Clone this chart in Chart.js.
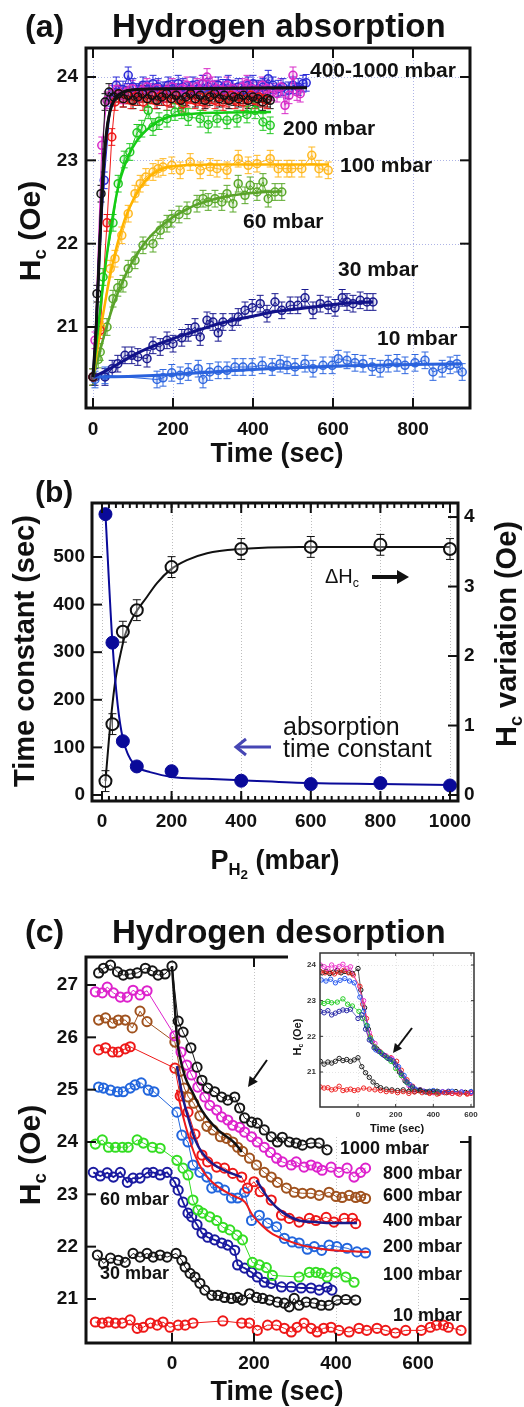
<!DOCTYPE html>
<html><head><meta charset="utf-8">
<script src="https://cdn.jsdelivr.net/npm/chart.js@4.4.1/dist/chart.umd.min.js"></script>
<style>
html,body{margin:0;padding:0;background:#fff;}
body{width:524px;height:1407px;position:relative;overflow:hidden;font-family:Arial,"Liberation Sans",Helvetica,sans-serif;color:#111;}
canvas{position:absolute;}
.t{position:absolute;white-space:nowrap;line-height:1;color:#111;}
.t sub{font-size:62%;vertical-align:baseline;position:relative;top:0.32em;}
.t sub sub{font-size:80%;}
svg{position:absolute;left:0;top:0;}
</style></head><body>
<canvas id="cA" width="524" height="470" style="left:0;top:0"></canvas>
<canvas id="cB" width="524" height="440" style="left:0;top:470px"></canvas>
<canvas id="cC" width="524" height="497" style="left:0;top:910px"></canvas>
<canvas id="cI" width="196" height="192" style="left:288px;top:944px;background:#fff"></canvas>
<svg id="ov" width="524" height="1407"></svg>
<script>
// ================= DATA : panel (a) absorption =================
const A_XTICKS=[0,200,400,600,800];
const A_YTICKS=[21,22,23,24];
const a_hiBlue=[[0,20.4],[28,22.76],[45,23.75],[58,23.9],[75,23.85],[88,24.02],[100,23.88],[113,23.82],[125,23.9],[138,23.85],[150,23.92],[163,23.88],[175,23.84],[188,23.9],[200,23.86],[213,23.92],[225,23.88],[238,23.84],[250,23.9],[263,23.86],[275,23.92],[288,23.88],[300,23.85],[313,23.9],[325,23.87],[338,23.92],[350,23.86],[363,23.88],[375,23.84],[388,23.9],[400,23.92],[413,23.86],[425,23.88],[438,23.98],[450,23.9],[463,23.86],[475,23.88],[488,23.84],[500,23.9],[513,23.88],[525,23.92],[533,23.93]];
const a_hiMag=[[0,20.4],[5,20.84],[22,23.18],[35,23.72],[48,23.8],[60,23.85],[73,23.78],[85,23.82],[98,23.86],[110,23.8],[123,23.84],[135,23.88],[148,23.82],[160,23.86],[173,23.8],[185,23.84],[198,23.88],[210,23.82],[223,23.86],[235,23.9],[248,23.84],[260,23.88],[273,23.92],[285,24.0],[298,23.9],[310,23.86],[323,23.84],[335,23.9],[348,23.86],[360,23.82],[373,23.88],[385,23.92],[398,23.86],[410,23.84],[423,23.9],[435,23.86],[448,23.82],[460,23.8],[470,23.88],[480,23.66],[490,23.78],[500,24.02],[510,23.82],[518,23.8]];
const a_hiRed=[[0,20.4],[18,20.96],[35,22.25],[47,23.28],[55,23.7],[65,23.8],[75,23.74],[85,23.78],[95,23.72],[105,23.76],[115,23.8],[125,23.7],[135,23.74],[145,23.78],[155,23.72],[165,23.76],[175,23.8],[185,23.7],[195,23.74],[205,23.78],[215,23.72],[225,23.68],[235,23.74],[245,23.78],[255,23.72],[265,23.76],[275,23.7],[285,23.74],[295,23.78],[305,23.72],[315,23.76],[325,23.7],[335,23.74],[345,23.78],[355,23.72],[365,23.76],[375,23.7],[385,23.74],[395,23.78],[405,23.72],[415,23.76],[425,23.74],[435,23.72]];
const a_hiBlack=[[0,20.4],[10,21.4],[20,22.6],[30,23.7],[40,23.82],[52,23.76],[64,23.8],[76,23.74],[88,23.78],[100,23.72],[112,23.76],[124,23.8],[136,23.74],[148,23.78],[160,23.72],[172,23.76],[184,23.8],[196,23.74],[208,23.78],[220,23.72],[232,23.76],[244,23.8],[256,23.74],[268,23.78],[280,23.72],[292,23.76],[304,23.8],[316,23.74],[328,23.78],[340,23.72],[352,23.76],[364,23.74],[376,23.78],[388,23.72],[400,23.76],[412,23.74],[424,23.7],[436,23.74],[443,23.72]];
const a_hiFit=[[0,20.4],[8,21.0],[17,22.0],[25,22.8],[33,23.3],[42,23.58],[55,23.74],[75,23.82],[110,23.85],[200,23.86],[535,23.87]];
const a_200=[[0,20.4],[25,21.6],[50,22.25],[63,22.72],[78,23.01],[92,23.1],[110,23.33],[122,23.38],[138,23.6],[150,23.4],[165,23.47],[185,23.5],[205,23.58],[222,23.6],[238,23.52],[268,23.5],[288,23.43],[310,23.5],[335,23.48],[360,23.5],[385,23.55],[405,23.6],[425,23.46],[443,23.42]];
const a_200fit=[[0,20.4],[12,20.95],[25,21.5],[38,21.98],[50,22.35],[62,22.66],[80,22.95],[105,23.2],[148,23.42],[188,23.52],[230,23.55],[300,23.57],[445,23.58]];
const a_100=[[0,20.4],[20,21.0],[43,21.7],[55,21.82],[72,22.1],[88,22.36],[105,22.6],[118,22.72],[132,22.8],[150,22.86],[163,22.9],[175,22.92],[197,22.94],[218,22.88],[243,22.98],[268,22.88],[293,22.92],[310,22.9],[335,22.88],[363,23.02],[388,22.94],[410,22.96],[443,23.02],[463,22.9],[485,22.9],[497,22.9],[522,22.9],[547,23.06],[565,22.9],[588,22.88]];
const a_100fit=[[0,20.4],[20,21.0],[40,21.55],[60,21.98],[80,22.3],[100,22.52],[130,22.75],[160,22.87],[200,22.93],[300,22.95],[590,22.95]];
const a_60=[[0,20.4],[13,20.61],[18,20.7],[35,21.0],[50,21.34],[62,21.47],[75,21.52],[88,21.7],[105,21.8],[125,21.98],[150,22.0],[168,22.16],[185,22.24],[197,22.3],[215,22.35],[235,22.4],[260,22.48],[275,22.54],[288,22.5],[305,22.54],[322,22.5],[335,22.6],[350,22.48],[363,22.72],[380,22.58],[393,22.7],[410,22.62],[425,22.74],[438,22.54],[455,22.62],[472,22.62]];
const a_60fit=[[0,20.4],[25,20.85],[50,21.25],[75,21.56],[100,21.8],[125,21.98],[150,22.12],[200,22.32],[250,22.45],[300,22.53],[350,22.58],[400,22.61],[472,22.63]];
const a_30=[[5,20.4],[30,20.4],[48,20.5],[62,20.56],[80,20.66],[97,20.66],[112,20.64],[135,20.62],[150,20.78],[168,20.76],[185,20.84],[200,20.8],[222,20.87],[238,20.93],[255,21.0],[268,20.88],[285,21.08],[300,21.06],[313,20.93],[325,21.06],[348,21.06],[363,21.12],[380,21.2],[398,21.23],[418,21.28],[435,21.16],[455,21.3],[472,21.2],[493,21.26],[512,21.26],[530,21.35],[550,21.2],[568,21.28],[588,21.26],[605,21.23],[623,21.35],[635,21.3],[650,21.28],[668,21.32],[685,21.3],[700,21.3]];
const a_30fit=[[0,20.4],[50,20.52],[100,20.66],[150,20.77],[200,20.86],[250,20.94],[300,21.02],[350,21.08],[400,21.13],[450,21.18],[500,21.21],[550,21.24],[600,21.27],[650,21.29],[700,21.3]];
const a_10=[[5,20.37],[30,20.42],[160,20.37],[175,20.39],[197,20.45],[218,20.42],[238,20.46],[263,20.5],[275,20.37],[292,20.46],[313,20.48],[335,20.48],[355,20.52],[375,20.52],[398,20.52],[423,20.54],[448,20.52],[468,20.56],[485,20.54],[505,20.52],[530,20.56],[550,20.5],[575,20.54],[598,20.54],[613,20.62],[635,20.6],[655,20.57],[675,20.56],[698,20.52],[718,20.5],[738,20.56],[760,20.57],[780,20.54],[805,20.57],[830,20.6],[850,20.46],[873,20.5],[893,20.54],[910,20.56],[923,20.46]];
const a_10fit=[[0,20.4],[100,20.41],[200,20.43],[300,20.46],[400,20.49],[500,20.51],[600,20.53],[700,20.54],[800,20.55],[923,20.56]];

// ================= DATA : panel (b) =================
const B_XTICKS=[0,200,400,600,800,1000];
const B_YTICKS=[0,100,200,300,400,500];
const B_Y2TICKS=[0,1,2,3,4];
const b_P=[10,30,60,100,200,400,600,800,1000];
const b_tau=[590,320,113,60,50,30,23,25,20];
const b_dH=[0.2,1.02,2.35,2.66,3.28,3.54,3.57,3.6,3.54];
const b_tauFit=[[10,590],[30,320],[45,190],[60,118],[75,85],[90,67],[110,55],[138,48],[200,38],[300,34],[400,31],[600,25],[800,23],[1000,21]];
const b_dHFit=[[10,0.2],[20,0.8],[31,1.35],[40,1.7],[52,2.0],[66,2.3],[89,2.56],[129,2.85],[158,3.05],[196,3.24],[244,3.38],[302,3.48],[397,3.54],[569,3.57],[1000,3.57]];

// ================= DATA : panel (c) desorption =================
const C_XTICKS=[0,200,400,600];
const C_YTICKS=[21,22,23,24,25,26,27];
const c_1000=[[-179,27.23],[-167,27.32],[-150,27.38],[-133,27.25],[-119,27.19],[-102,27.21],[-85,27.23],[-65,27.32],[-48,27.27],[-34,27.19],[-17,27.21],[0,27.36],[15,26.31],[27,26.1],[46,25.8],[61,25.43],[73,25.18],[87,25.03],[104,24.96],[121,24.86],[136,24.8],[153,24.86],[165,24.65],[177,24.46],[194,24.38],[208,24.36],[225,24.23],[242,24.1],[257,24.0],[269,24.09],[286,24.0],[303,23.98],[318,23.94],[339,23.98],[359,23.98],[378,23.85]];
const c_1000fit=[[0,27.36],[5,26.8],[12,26.0],[20,25.6],[32,25.24],[50,24.95],[73,24.6],[112,24.23],[153,23.98],[170,23.81]];
const c_800=[[-187,26.87],[-170,26.85],[-158,26.96],[-143,26.85],[-126,26.77],[-109,26.77],[-95,26.9],[-78,26.81],[-61,26.89],[7,26.03],[22,25.72],[36,25.47],[48,25.28],[63,25.05],[80,24.86],[92,24.7],[109,24.61],[121,24.48],[136,24.42],[148,24.32],[165,24.28],[177,24.19],[194,24.1],[208,24.0],[225,23.9],[240,23.8],[255,23.69],[269,23.62],[291,23.56],[303,23.62],[322,23.52],[339,23.56],[354,23.52],[366,23.46],[388,23.52],[407,23.42],[427,23.5],[444,23.33],[460,23.42],[472,23.5]];
const c_600=[[-179,26.33],[-162,26.37],[-145,26.27],[-131,26.33],[-114,26.33],[-97,26.18],[-78,26.5],[-61,26.3],[7,25.91],[20,25.35],[30,25.03],[40,24.86],[53,24.74],[68,24.5],[85,24.3],[100,24.23],[118,24.1],[133,24.07],[148,24.0],[160,23.9],[172,23.82],[189,23.69],[206,23.56],[225,23.42],[242,23.33],[257,23.23],[279,23.12],[298,23.04],[318,23.02],[339,23.02],[359,22.98],[383,23.04],[400,22.96],[415,22.94],[432,22.98],[448,22.94],[460,22.96],[472,22.92]];
const c_400=[[-179,25.76],[-162,25.8],[-145,25.72],[-131,25.72],[-114,25.78],[-102,25.82],[7,25.41],[20,24.88],[39,24.57],[56,24.15],[73,23.75],[87,23.62],[109,23.52],[128,23.5],[148,23.4],[170,23.33],[184,23.12],[200,23.24],[215,23.05],[242,22.89],[267,22.6],[286,22.54],[310,22.47],[335,22.54],[351,22.5],[376,22.56],[395,22.47],[420,22.54],[440,22.54],[448,22.44]];
const c_400fitA=[[12,25.45],[25,24.9],[40,24.45],[56,24.05],[73,23.8],[100,23.58],[130,23.45],[170,23.33]];
const c_400fitB=[[206,23.27],[238,22.89],[269,22.66],[310,22.5],[350,22.47],[390,22.45],[451,22.45]];
const c_200=[[-179,25.05],[-167,25.03],[-150,24.99],[-133,24.96],[-119,24.96],[-102,25.03],[-90,25.09],[-75,25.13],[-58,24.99],[-44,24.96],[12,24.57],[24,24.13],[39,24.0],[51,23.56],[68,23.42],[85,23.33],[97,23.12],[112,23.14],[128,23.08],[145,22.93],[160,22.93],[177,23.04],[194,22.5],[213,22.6],[233,22.45],[255,22.38],[274,22.16],[293,22.09],[310,22.07],[330,21.95],[347,22.0],[365,21.93],[383,22.03],[402,22.0],[427,21.97],[451,21.9],[472,21.88]];
const c_200fit=[[12,25.0],[25,24.55],[40,24.12],[56,23.75],[75,23.45],[97,23.24],[120,23.1],[150,22.97],[178,22.85],[195,22.62],[220,22.4],[242,22.26],[270,22.15],[291,22.09],[320,22.02],[354,21.97],[390,21.93],[480,21.9]];
const c_100=[[-187,23.96],[-170,24.04],[-155,23.9],[-138,23.9],[-121,23.9],[-107,23.9],[-85,24.04],[-70,23.98],[-48,23.9],[-29,23.88],[12,23.65],[27,23.5],[39,23.37],[51,22.89],[63,22.7],[75,22.64],[92,22.57],[109,22.5],[124,22.37],[141,22.32],[158,22.22],[172,22.13],[196,21.7],[213,21.65],[230,21.6],[245,21.45],[310,21.42],[335,21.51],[351,21.51],[364,21.49],[378,21.42],[400,21.51],[424,21.42],[444,21.32]];
const c_60=[[-192,23.42],[-175,23.35],[-158,23.41],[-143,23.33],[-126,23.42],[-109,23.23],[-95,23.31],[-78,23.31],[-61,23.41],[-46,23.42],[-29,23.37],[-12,23.42],[7,23.23],[15,23.08],[27,22.85],[39,22.64],[48,22.57],[61,22.42],[73,22.26],[87,22.18],[104,22.13],[121,22.07],[136,22.03],[153,21.93],[160,21.65],[177,21.59],[194,21.51],[208,21.42],[225,21.32],[242,21.3],[267,21.23],[291,21.23],[315,21.21],[339,21.21],[359,21.17],[378,21.23],[390,21.17]];
const c_30=[[-182,21.84],[-167,21.68],[-150,21.78],[-131,21.74],[-114,21.7],[-95,21.87],[-78,21.8],[-61,21.87],[-46,21.8],[-29,21.84],[-12,21.8],[10,21.87],[24,21.74],[32,21.61],[44,21.49],[56,21.42],[68,21.3],[80,21.17],[97,21.07],[112,21.07],[128,21.03],[145,21.01],[160,21.03],[172,20.98],[189,21.1],[206,21.03],[221,21.01],[238,20.98],[257,20.94],[274,20.92],[286,20.85],[298,21.01],[310,20.88],[327,20.94],[347,20.92],[364,20.88],[383,20.88],[402,20.98],[424,20.99],[448,20.98]];
const c_10=[[-187,20.56],[-170,20.54],[-155,20.56],[-138,20.54],[-121,20.54],[-102,20.6],[-85,20.44],[-70,20.46],[-53,20.54],[-36,20.5],[-22,20.56],[-5,20.46],[15,20.5],[32,20.5],[51,20.54],[124,20.58],[170,20.54],[189,20.54],[208,20.4],[233,20.5],[255,20.5],[274,20.44],[291,20.37],[305,20.46],[322,20.54],[339,20.44],[354,20.37],[370,20.44],[388,20.46],[407,20.4],[432,20.37],[456,20.44],[475,20.4],[500,20.44],[521,20.4],[545,20.35],[570,20.4],[608,20.4],[630,20.46],[645,20.5],[662,20.5],[674,20.46],[705,20.4]];

// ================= DATA : inset =================
const I_XTICKS=[0,200,400,600];
const I_YTICKS=[21,22,23,24];
const i_mag=[[-200,24.0],[-180,23.95],[-160,23.9],[-140,24.0],[-120,23.92],[-100,23.96],[-80,24.02],[-60,23.9],[-40,23.95],[30,23.0],[60,22.1],[90,21.8],[120,21.55],[150,21.45],[180,21.38],[210,21.1],[240,20.85],[270,20.62],[300,20.5],[350,20.46],[400,20.42],[450,20.45],[500,20.4],[550,20.44],[600,20.42]];
const i_blk=[[-190,23.78],[-170,23.82],[-150,23.76],[-130,23.8],[-110,23.85],[-90,23.78],[-70,23.82],[-50,23.8],[-30,23.76],[0,23.9],[15,23.3],[35,22.8],[55,22.2],[75,21.85],[100,21.65],[130,21.5],[160,21.38],[190,21.28],[220,21.0],[250,20.75],[280,20.55],[320,20.48],[370,20.44],[420,20.46],[470,20.42],[520,20.45],[570,20.43],[600,20.44]];
const i_red=[[-200,23.82],[-175,23.78],[-150,23.8],[-125,23.75],[-100,23.8],[-75,23.85],[-50,23.78],[-25,23.72],[10,23.4],[25,22.9],[45,22.5],[65,22.0],[90,21.7],[115,21.58],[145,21.45],[175,21.4],[205,21.3],[230,21.05],[260,20.78],[290,20.6],[330,20.5],[380,20.42],[430,20.4],[480,20.43],[530,20.4],[580,20.38],[600,20.4]];
const i_blu=[[-195,23.58],[-170,23.55],[-145,23.6],[-120,23.5],[-95,23.57],[-70,23.62],[-45,23.55],[-20,23.5],[10,23.1],[30,22.7],[50,22.3],[70,21.9],[95,21.62],[125,21.52],[155,21.4],[185,21.32],[215,21.15],[245,20.9],[275,20.65],[305,20.52],[350,20.46],[400,20.48],[450,20.44],[500,20.46],[550,20.44],[600,20.45]];
const i_grn=[[-200,22.95],[-180,22.92],[-160,22.98],[-140,22.94],[-110,22.96],[-80,23.05],[-55,22.9],[-30,22.85],[5,22.7],[25,22.5],[45,22.3],[65,21.95],[90,21.7],[120,21.55],[150,21.42],[175,21.3],[200,21.1],[230,20.9],[260,20.7],[290,20.55],[330,20.47],[380,20.45],[420,20.42]];
const i_nav=[[-200,22.7],[-180,22.66],[-160,22.72],[-140,22.6],[-120,22.65],[-100,22.7],[-80,22.74],[-60,22.72],[-40,22.76],[0,22.5],[20,22.6],[40,22.2],[60,21.9],[85,21.68],[110,21.58],[140,21.46],[170,21.36],[200,21.2],[230,20.95],[260,20.72],[290,20.58],[330,20.5],[380,20.46],[430,20.44],[480,20.46]];
const i_blk2=[[-200,21.3],[-180,21.22],[-160,21.28],[-140,21.25],[-120,21.3],[-100,21.38],[-80,21.32],[-60,21.35],[-40,21.3],[-20,21.34],[0,21.4],[20,21.15],[40,20.98],[60,20.85],[80,20.72],[100,20.62],[120,20.56],[150,20.52],[180,20.5],[210,20.48],[240,20.5],[270,20.46],[300,20.45],[330,20.48],[360,20.44],[400,20.45]];
const i_red2=[[-200,20.58],[-180,20.55],[-160,20.56],[-140,20.5],[-120,20.52],[-100,20.6],[-80,20.48],[-60,20.5],[-40,20.52],[-20,20.48],[0,20.5],[30,20.55],[60,20.52],[90,20.5],[120,20.48],[150,20.45],[180,20.46],[210,20.42],[240,20.45],[270,20.4],[300,20.44],[340,20.42],[380,20.4],[420,20.38],[460,20.42],[500,20.4],[540,20.38],[580,20.4]];

// ================= helpers =================
const FONT='Arial, "Liberation Sans", Helvetica, sans-serif';
Chart.defaults.font.family=FONT;
const P=a=>a.map(p=>({x:p[0],y:p[1]}));
function rgba(hex,al){const h=hex.replace('#','');const n=parseInt(h.length===3?h.split('').map(c=>c+c).join(''):h,16);return `rgba(${(n>>16)&255},${(n>>8)&255},${n&255},${al})`;}
function dots(arr,col,o){return Object.assign({data:P(arr),showLine:true,borderColor:col,borderWidth:1,pointRadius:4,pointBorderWidth:1.5,pointBorderColor:col,pointBackgroundColor:rgba(col,0.15),tension:0,order:2},o||{});}
function fit(arr,col,w,o){return Object.assign({data:P(arr),showLine:true,borderColor:col,borderWidth:w,pointRadius:0,cubicInterpolationMode:'monotone',order:1},o||{});}

const FRAME={};
const framePlugin={id:'frameDeco',
  beforeDatasetsDraw(chart){
    const o=FRAME[chart.canvas.id]; if(!o) return;
    const {ctx,chartArea:a}=chart; const xs=chart.scales.x, ys=chart.scales.y;
    ctx.save();
    ctx.beginPath();ctx.rect(a.left,a.top,a.right-a.left,a.bottom-a.top);ctx.clip();
    if(o.grid){
      ctx.strokeStyle=o.grid.color; ctx.lineWidth=1; ctx.setLineDash(o.grid.dash||[1,2]);
      (o.grid.x||[]).forEach(v=>{const p=Math.round(xs.getPixelForValue(v))+0.5;ctx.beginPath();ctx.moveTo(p,a.top);ctx.lineTo(p,a.bottom);ctx.stroke();});
      (o.grid.y||[]).forEach(v=>{const p=Math.round(ys.getPixelForValue(v))+0.5;ctx.beginPath();ctx.moveTo(a.left,p);ctx.lineTo(a.right,p);ctx.stroke();});
      ctx.setLineDash([]);
    }
    // error bars
    chart.data.datasets.forEach((ds,i)=>{
      if(!ds.err) return;
      const sx=chart.scales[ds.xAxisID||'x'], sy=chart.scales[ds.yAxisID||'y'];
      ctx.strokeStyle=ds.errColor||ds.borderColor; ctx.lineWidth=ds.errW||1;
      const cw=ds.cap||3.5;
      ds.data.forEach(p=>{
        const px=sx.getPixelForValue(p.x), y1=sy.getPixelForValue(p.y+ds.err), y2=sy.getPixelForValue(p.y-ds.err);
        ctx.beginPath();ctx.moveTo(px,y1);ctx.lineTo(px,y2);
        ctx.moveTo(px-cw,y1);ctx.lineTo(px+cw,y1);ctx.moveTo(px-cw,y2);ctx.lineTo(px+cw,y2);ctx.stroke();
      });
    });
    ctx.restore();
  },
  afterDatasetsDraw(chart){
    const o=FRAME[chart.canvas.id]; if(!o) return;
    const {ctx,chartArea:a}=chart; const xs=chart.scales.x, ys=chart.scales.y, yr=chart.scales[o.yr||'y'];
    ctx.save(); ctx.strokeStyle=o.color||'#111'; ctx.setLineDash([]);
    const seg=(x1,y1,x2,y2)=>{ctx.beginPath();ctx.moveTo(x1,y1);ctx.lineTo(x2,y2);ctx.stroke();};
    ctx.lineWidth=o.tw||2; const L=o.len||9, M=o.mlen||5;
    (o.bottom||[]).forEach(v=>{const p=xs.getPixelForValue(v);seg(p,a.bottom,p,a.bottom-L);});
    (o.top||[]).forEach(v=>{const p=xs.getPixelForValue(v);seg(p,a.top,p,a.top+L);});
    if(o.minorStep){for(let v=o.minorFrom;v<=o.minorTo;v+=o.minorStep){const p=xs.getPixelForValue(v);seg(p,a.bottom,p,a.bottom-M);seg(p,a.top,p,a.top+M);}}
    (o.left||[]).forEach(v=>{const p=ys.getPixelForValue(v);seg(a.left,p,a.left+L,p);});
    (o.right||[]).forEach(v=>{const p=yr.getPixelForValue(v);seg(a.right,p,a.right-L,p);});
    ctx.lineWidth=o.lw||3;
    ctx.strokeRect(a.left,a.top,a.right-a.left,a.bottom-a.top);
    ctx.restore();
  }};
Chart.register(framePlugin);

function axis(pos,min,max,ticks,size,pad,fitSize,color,extra){
  const horiz=(pos==='bottom'||pos==='top');
  return Object.assign({type:'linear',position:pos,min:min,max:max,
    afterBuildTicks:s=>{s.ticks=ticks.map(v=>({value:v}));},
    afterFit:s=>{if(horiz) s.height=fitSize; else s.width=fitSize;},
    grid:{display:false,drawTicks:false},border:{display:false},
    ticks:{font:{family:FONT,size:size,weight:'bold'},color:color||'#111',padding:pad,maxRotation:0,autoSkip:false,callback:v=>String(v)}},extra||{});
}
function baseOpts(scales,padding){
  return {responsive:false,animation:false,devicePixelRatio:1,
    layout:{padding:padding},
    plugins:{legend:{display:false},tooltip:{enabled:false}},
    scales:scales};
}

// ================= chart (a) =================
const cA_hi='#2a2ad8', cA_mag='#d82ac8', cA_red='#ee1515', cA_blk='#111111';
FRAME.cA={lw:3,tw:2,len:10,bottom:A_XTICKS,top:A_XTICKS,left:A_YTICKS,right:A_YTICKS,
  grid:{color:'#aeb4e6',dash:[1,2],x:A_XTICKS,y:A_YTICKS}};
new Chart(document.getElementById('cA'),{type:'scatter',
  data:{datasets:[
    fit(a_hiFit,'#111',3),fit(a_hiFit,'#1a1aa0',2.5),fit(a_hiFit.map(p=>p),'#d020c0',1.5),
    fit(a_200fit,'#14cc14',2.5),fit(a_100fit,'#ffb400',2.5),fit(a_60fit,'#5aa32a',2.5),
    fit(a_30fit,'#12128a',3),fit(a_10fit,'#2a62dd',3),
    dots(a_hiBlack,cA_blk,{err:0.1}),dots(a_hiRed,cA_red,{err:0.1}),dots(a_hiMag,cA_mag,{err:0.1}),dots(a_hiBlue,cA_hi,{err:0.1}),
    dots(a_200,'#22c822',{err:0.1}),dots(a_100,'#ffb820',{err:0.1}),dots(a_60,'#5aa82a',{err:0.1}),
    dots(a_30,'#1a1a90',{err:0.1}),dots(a_10,'#3068e0',{err:0.1})
  ]},
  options:baseOpts({
    x:axis('bottom',-17.5,942.5,A_XTICKS,19,10,62),
    y:axis('left',20.028,24.348,A_YTICKS,19,8,86)
  },{top:48,right:54})
});

// ================= chart (b) =================
FRAME.cB={lw:3,tw:2,len:10,mlen:5,bottom:B_XTICKS,top:B_XTICKS,minorStep:20,minorFrom:0,minorTo:1000,left:B_YTICKS,right:B_Y2TICKS,yr:'y2',
  grid:{color:'#bdbdbd',dash:[1,2],x:B_XTICKS,y:[]}};
new Chart(document.getElementById('cB'),{type:'scatter',
  data:{datasets:[
    fit(b_tauFit,'#0a0a99',2,{yAxisID:'y'}),
    fit(b_dHFit,'#111',2,{yAxisID:'y2'}),
    {data:b_P.map((p,i)=>({x:p,y:b_tau[i]})),yAxisID:'y',showLine:false,pointRadius:6.5,pointBackgroundColor:'#0a0a99',pointBorderColor:'#0a0a99',borderColor:'#0a0a99',order:0},
    {data:b_P.map((p,i)=>({x:p,y:b_dH[i]})),yAxisID:'y2',showLine:false,pointRadius:6,pointBorderWidth:2,pointBackgroundColor:'rgba(255,255,255,0.3)',pointBorderColor:'#111',borderColor:'#111',err:0.15,cap:4,order:0}
  ]},
  options:baseOpts({
    x:axis('bottom',-28.7,1023,B_XTICKS,19,9,109),
    y:axis('left',-12.6,613.4,B_YTICKS,19,7,92),
    y2:axis('right',-0.086,4.202,B_Y2TICKS,19,6,66)
  },{top:33})
});

// ================= chart (c) main =================
FRAME.cC={lw:3,tw:2,len:10,bottom:C_XTICKS,top:[200],left:C_YTICKS,right:[21,24],
  grid:{color:'#c4c4c4',dash:[1,2],x:C_XTICKS,y:[]}};
const cd=(arr,col)=>dots(arr,col,{pointRadius:4.6,pointBorderWidth:2,pointBackgroundColor:'rgba(255,255,255,0)',borderWidth:1});
new Chart(document.getElementById('cC'),{type:'scatter',
  data:{datasets:[
    fit(c_1000fit,'#111',2.5),fit(c_400fitA,'#1a1a8a',2.5),fit(c_400fitB,'#1a1a8a',2.5),fit(c_200fit,'#ee1a1a',2),
    cd(c_1000,'#151515'),cd(c_800,'#dd22cc'),cd(c_600,'#a0521e'),cd(c_400,'#ee1818'),cd(c_200,'#2266dd'),
    cd(c_100,'#33dd22'),Object.assign(cd(c_60,'#1a1aa0'),{borderWidth:1.8}),cd(c_30,'#151515'),cd(c_10,'#ee1818')
  ]},
  options:baseOpts({
    x:axis('bottom',-209.8,726.8,C_XTICKS,19,9,64),
    y:axis('left',20.159,27.535,C_YTICKS,19,8,86)
  },{top:47,right:54})
});

// ================= inset =================
FRAME.cI={lw:1.5,tw:1,len:3,color:'#333',bottom:I_XTICKS,top:I_XTICKS,left:I_YTICKS,right:I_YTICKS,
  grid:{color:'#e4e4e4',dash:[1,2],x:I_XTICKS,y:I_YTICKS}};
const ci=(arr,col)=>({data:P(arr),showLine:true,borderColor:col,borderWidth:0.7,pointRadius:2.2,pointBorderWidth:1,pointBorderColor:col,pointBackgroundColor:'rgba(255,255,255,0)',order:2});
new Chart(document.getElementById('cI'),{type:'scatter',
  data:{datasets:[
    ci(i_red2,'#ee2222'),ci(i_blk2,'#222'),ci(i_nav,'#2a2aa8'),ci(i_grn,'#22cc22'),ci(i_blu,'#2255ee'),ci(i_mag,'#ee33cc'),ci(i_red,'#ee2222'),ci(i_blk,'#111')
  ]},
  options:baseOpts({
    x:axis('bottom',-201.8,616,I_XTICKS,8,3,29,'#333'),
    y:axis('left',20.019,24.336,I_YTICKS,8,4,32,'#333')
  },{top:9,right:10})
});

// ================= text =================
function txt(html,x,base,size,o){
  o=o||{};
  const d=document.createElement('div'); d.className='t'; d.innerHTML=html;
  d.style.fontSize=size+'px'; d.style.fontWeight=o.w||'bold'; if(o.c) d.style.color=o.c;
  document.body.appendChild(d);
  if(o.rot){ d.style.left=x+'px'; d.style.top=base+'px'; d.style.transform='translate(-50%,-50%) rotate(-90deg)'; return; }
  d.style.top=(base-0.846*size)+'px'; d.style.left=x+'px';
  if(o.a==='center') d.style.transform='translateX(-50%)';
  if(o.a==='right') d.style.transform='translateX(-100%)';
}
// (a)
txt('(a)',25,37,32);
txt('Hydrogen absorption',112,37,33);
txt('H<sub>c</sub> (Oe)',30,231,30,{rot:1});
txt('Time (sec)',277,463,27,{a:'center'});
txt('400-1000 mbar',310,77,21);
txt('200 mbar',283,135,21);
txt('100 mbar',340,172,21);
txt('60 mbar',243,228,21);
txt('30 mbar',338,276,21);
txt('10 mbar',377,345,21);
// (b)
txt('(b)',35,502,30);
txt('Time constant (sec)',24,651,29,{rot:1});
txt('H<sub>c</sub> variation (Oe)',506,634,29,{rot:1});
txt('P<sub>H<sub>2</sub></sub> (mbar)',275,870,27,{a:'center'});
txt('&Delta;H<sub>c</sub>',325,583,20,{w:'normal'});
txt('absorption',283,735,25,{w:'normal'});
txt('time constant',283,757,25,{w:'normal'});
// (c)
txt('(c)',25,942,32);
txt('Hydrogen desorption',112,943,33);
txt('H<sub>c</sub> (Oe)',30,1155,30,{rot:1});
txt('Time (sec)',277,1401,27,{a:'center'});
txt('1000 mbar',340,1154,18);
txt('800 mbar',383,1179,18);
txt('600 mbar',383,1201,18);
txt('400 mbar',383,1226,18);
txt('200 mbar',383,1252,18);
txt('100 mbar',383,1280,18);
txt('10 mbar',393,1321,18);
txt('60 mbar',100,1205,18);
txt('30 mbar',100,1279,18);
txt('Time (sec)',397,1132,11,{a:'center'});
txt('H<sub>c</sub> (Oe)',297,1037,11,{rot:1});

// ================= arrows (annotations) =================
const ov=document.getElementById('ov'); const NS='http://www.w3.org/2000/svg';
function el(n,a){const e=document.createElementNS(NS,n);for(const k in a)e.setAttribute(k,a[k]);ov.appendChild(e);return e;}
function arrow(x1,y1,x2,y2,col,w,hl,hw,open){
  const ang=Math.atan2(y2-y1,x2-x1), c=Math.cos(ang), s=Math.sin(ang);
  const bx=x2-hl*c, by=y2-hl*s, px=-s, py=c;
  if(open){
    el('line',{x1:x1,y1:y1,x2:x2,y2:y2,stroke:col,'stroke-width':w});
    el('polyline',{points:`${bx+px*hw},${by+py*hw} ${x2},${y2} ${bx-px*hw},${by-py*hw}`,fill:'none',stroke:col,'stroke-width':w,'stroke-linejoin':'miter'});
  } else {
    el('line',{x1:x1,y1:y1,x2:bx+hl*0.3*c,y2:by+hl*0.3*s,stroke:col,'stroke-width':w});
    el('polygon',{points:`${x2},${y2} ${bx+px*hw},${by+py*hw} ${bx-px*hw},${by-py*hw}`,fill:col});
  }
}
arrow(372,577,409,577,'#111',4,12,7,false);
arrow(271,747,236,747,'#4646b4',3,10,8,true);
arrow(267,1060,248,1087,'#111',2,10,5,false);
arrow(412,1028,393,1053,'#111',2,9,4.5,false);
</script>
</body></html>
